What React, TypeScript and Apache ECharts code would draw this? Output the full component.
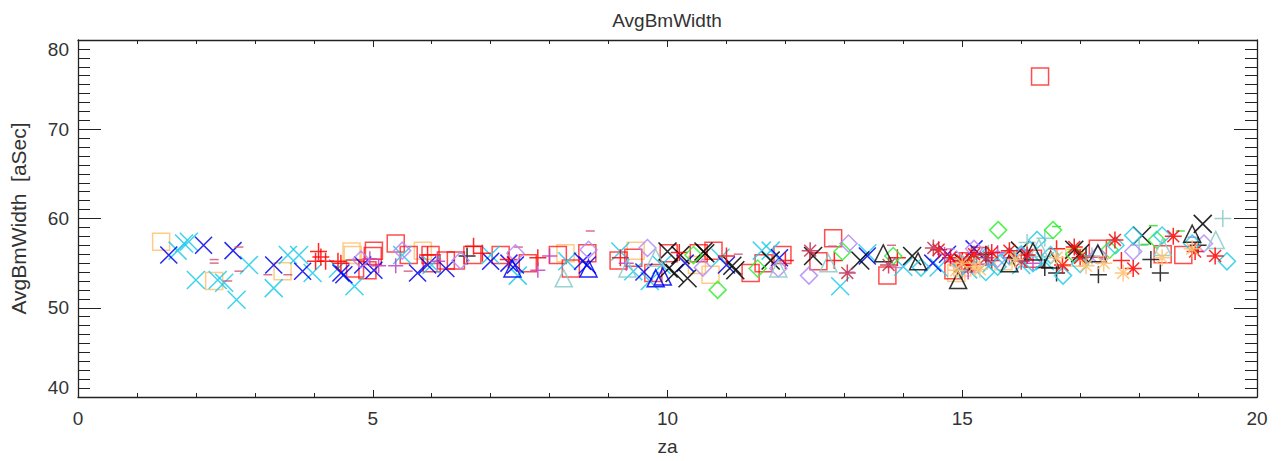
import React, { useEffect, useRef } from "react";
import * as echarts from "echarts";

const xTicks = [0, 5, 10, 15, 20];
const yTicks = [40, 50, 60, 70, 80];

const cyanX = [[1.69,56.4],[1.80,57.2],[1.88,57.4],[2.0,53.1],[2.37,53.1],[2.48,52.8],[2.69,50.9],[2.90,54.8],[3.32,52.2],[3.56,55.9],[3.75,55.9],[3.98,53.9],[4.41,54.4],[4.69,52.4],[5.5,55.9],[6.0,54.8],[7.0,55.9],[7.46,53.6],[8.3,55.2],[9.2,56.3],[9.42,54.1],[9.9,54.8],[10.9,55.6],[11.6,56.4],[12.93,52.4],[13.39,56.1],[11.75,56.4],[14.6,54.5],[15.1,54.3],[15.5,55.0],[16.0,54.8],[16.4,55.2],[9.7,53.0],[14.0,54.6],[15.3,56.0]];
const blueX = [[1.54,55.9],[2.13,57.0],[2.63,56.4],[3.32,54.8],[3.81,54.1],[4.46,53.9],[4.51,53.7],[4.83,54.8],[5.02,54.2],[5.76,53.9],[5.93,54.8],[6.24,54.4],[7.0,55.2],[7.31,55.0],[7.42,54.8],[8.56,55.2],[8.64,54.8],[9.6,54.0],[10.3,55.0],[11.0,54.8],[11.9,55.6],[13.39,55.8],[14.75,56.0],[15.2,56.6],[14.5,55.0]];
const blackX = [[10.0,56.3],[10.02,54.4],[10.12,53.9],[10.22,55.9],[10.34,53.3],[10.61,56.3],[10.64,56.1],[11.1,54.7],[11.15,54.2],[11.75,55.3],[12.47,55.8],[13.27,55.3],[14.15,55.8],[15.02,55.0],[15.98,56.4],[17.0,56.1],[18.05,58.1],[19.08,59.4],[16.9,56.5]];
const redSquares = [[4.91,54.2],[5.02,56.4],[5.0,55.8],[5.39,57.2],[5.61,55.9],[5.98,55.9],[6.24,55.3],[6.41,55.3],[6.69,55.9],[7.17,55.9],[7.63,55.0],[8.14,55.9],[8.36,54.4],[8.64,56.1],[9.17,55.3],[9.42,55.6],[9.76,53.9],[10.02,56.1],[10.53,56.1],[10.78,56.4],[11.41,53.9],[11.63,55.0],[11.95,55.9],[12.81,57.8],[12.56,55.2],[13.73,53.6],[14.85,54.2],[15.1,55.2],[15.3,55.8],[16.2,55.5],[17.3,56.6],[18.75,55.9],[18.4,56.0],[16.32,75.9],[4.7,54.4],[6.0,55.0]];
const orangeSquares = [[1.41,57.4],[2.31,53.0],[3.47,54.1],[4.64,56.3],[4.66,55.9],[5.85,56.4],[8.27,56.1],[9.46,56.4],[10.73,53.7],[10.5,54.8],[15.0,54.5],[14.9,53.9],[15.7,55.2],[16.9,55.6]];
const redPlus = [[4.08,56.3],[4.12,55.7],[4.03,55.2],[4.20,55.2],[4.41,55.2],[4.46,55.0],[5.93,55.9],[6.71,56.9],[6.86,56.1],[7.3,55.4],[7.8,55.6],[9.2,55.6],[10.2,56.2],[11.0,55.8],[12.0,55.3],[12.83,55.3],[13.9,55.6],[15.5,55.3],[16.6,56.6],[17.7,55.3]];
const blackPlus = [[16.4,54.5],[16.6,53.9],[17.31,53.7],[18.36,53.9],[18.2,55.4],[17.1,55.8],[6.6,55.8],[15.4,56.0],[19.0,57.0]];
const tealPlus = [[19.42,60.0],[16.4,57.8],[18.0,57.0],[16.1,57.3],[17.2,55.8]];
const magentaPlus = [[4.95,55.5],[5.39,54.7],[5.1,54.7],[6.1,55.2],[7.8,54.2],[8.0,55.8],[9.3,55.0],[14.7,56.0],[15.6,56.2],[16.2,55.0],[15.1,54.0],[15.8,55.6]];
const pinkDash = [[2.31,55.4],[2.31,55.0],[2.54,53.0],[2.73,56.8],[2.73,54.1],[3.22,53.7],[3.56,53.7],[7.47,56.8],[8.69,58.6],[12.8,56.9],[13.8,57.0],[15.3,55.9],[5.6,54.1],[11.2,56.0]];
const purpleDash = [[13.1,54.0],[14.8,56.6],[16.1,56.1],[17.4,55.5],[18.9,57.9],[13.9,54.5],[15.4,54.9]];
const greenDash = [[18.24,59.2],[18.7,58.6],[16.6,59.1],[15.2,55.7],[18.1,57.1]];
const greenDiamonds = [[10.44,55.9],[10.85,52.0],[11.53,54.4],[12.97,56.3],[13.83,55.8],[15.61,58.7],[16.54,58.7],[17.5,56.5],[18.3,57.6],[16.9,56.0]];
const lavenderDiamonds = [[5.5,56.4],[6.49,55.3],[7.42,56.1],[8.66,56.5],[9.66,56.7],[10.6,54.5],[11.88,54.4],[13.07,57.2],[12.4,53.6],[14.9,55.4],[15.2,56.6],[16.0,55.8],[17.3,55.9],[17.9,56.3],[19.1,57.2],[4.8,55.4],[15.6,55.5]];
const cyanDiamonds = [[14.3,54.5],[15.0,54.9],[15.4,54.0],[15.8,55.8],[16.27,57.6],[16.5,55.9],[16.71,53.6],[17.0,54.9],[17.6,57.0],[18.39,58.1],[18.9,57.2],[19.49,55.2],[16.0,56.0],[15.6,54.6],[17.9,58.1],[16.2,55.0]];
const tealTriangles = [[8.24,53.3],[9.32,54.4],[9.8,55.6],[11.88,54.4],[12.73,55.0],[16.3,56.7],[18.4,56.8],[19.3,57.6]];
const blueTriangles = [[7.37,54.4],[8.66,54.4],[9.8,53.3],[9.92,53.5]];
const blackTriangles = [[13.66,56.1],[14.25,55.2],[14.93,53.1],[15.8,55.0],[16.5,55.4],[17.3,56.1],[18.9,58.3],[16.2,56.3]];
const redAsterisks = [[14.6,56.5],[14.8,55.6],[15.0,55.3],[15.2,56.0],[15.1,54.8],[15.5,56.2],[16.1,55.9],[16.7,54.8],[17.0,55.6],[17.59,57.6],[17.9,54.4],[18.58,58.0],[18.95,56.3],[19.29,55.8],[15.8,56.4],[16.9,56.8]];
const crimsonAsterisks = [[12.42,56.4],[13.05,53.9],[13.75,54.8],[14.51,56.7],[15.4,55.6],[16.0,55.2]];
const orangeAsterisks = [[14.9,54.2],[15.0,55.0],[15.2,54.6],[15.9,55.4],[17.1,54.7],[17.73,53.9],[18.39,55.6],[17.4,55.0],[16.6,55.6],[18.9,56.6],[15.3,54.3]];

const X_PATH = "path://M0,0L10,10M10,0L0,10";
const PLUS_PATH = "path://M5,0L5,10M0,5L10,5";
const AST_PATH = "path://M5,0L5,10M0,5L10,5M1.5,1.5L8.5,8.5M8.5,1.5L1.5,8.5";

function outline(data: number[][], symbol: string, color: string, size: number | number[], width = 1.5, opacity = 0.85) {
  return {
    type: "scatter",
    data,
    symbol,
    symbolSize: size,
    silent: true,
    itemStyle: { color: "none", borderColor: color, borderWidth: width, opacity },
    emphasis: { disabled: true },
  };
}
function dash(data: number[][], color: string) {
  return {
    type: "scatter",
    data,
    symbol: "rect",
    symbolSize: [9, 1.5],
    silent: true,
    itemStyle: { color, opacity: 0.85 },
    emphasis: { disabled: true },
  };
}

export default function App() {
  const ref = useRef<HTMLDivElement>(null);
  useEffect(() => {
    const chart = echarts.init(ref.current!, null, { renderer: "svg" });
    const font = "Liberation Sans";
    const axisLine = { show: true, onZero: false, lineStyle: { color: "#222", width: 1.3 } };
    const xCommon = {
      type: "value",
      min: 0,
      max: 20,
      interval: 5,
      splitLine: { show: false },
      axisLine,
      axisTick: { show: true, inside: true, length: 7, lineStyle: { color: "#222" } },
      minorTick: { show: true, splitNumber: 5, length: 4, lineStyle: { color: "#222" } },
    };
    const yCommon = {
      type: "value",
      min: 40,
      max: 80,
      interval: 10,
      splitLine: { show: false },
      axisLine,
      axisTick: { show: true, inside: true, length: 23, lineStyle: { color: "#222" } },
      minorTick: { show: true, splitNumber: 10, length: 12, lineStyle: { color: "#222" } },
    };
    chart.setOption({
      animation: false,
      grid: { left: 77, right: 26, top: 40, bottom: 61, containLabel: false },
      xAxis: [
        {
          ...xCommon,
          position: "bottom",
          name: "za",
          nameLocation: "middle",
          nameGap: 40,
          nameTextStyle: { fontFamily: font, fontSize: 19, color: "#333" },
          axisLabel: {
            margin: 12,
            fontFamily: font,
            fontSize: 19,
            color: "#333",
            formatter: (v: number) => (xTicks.includes(v) ? String(v) : ""),
          },
        },
        { ...xCommon, position: "top", axisLabel: { show: false } },
      ],
      yAxis: [
        {
          ...yCommon,
          position: "left",
          name: "AvgBmWidth  [aSec]",
          nameLocation: "middle",
          nameGap: 49,
          nameTextStyle: { fontFamily: font, fontSize: 21, color: "#333" },
          axisLabel: {
            margin: 9,
            fontFamily: font,
            fontSize: 19,
            color: "#333",
            verticalAlignMinLabel: "bottom",
            verticalAlignMaxLabel: "top",
            formatter: (v: number) => (yTicks.includes(v) ? String(v) : ""),
          },
        },
        { ...yCommon, position: "right", axisLabel: { show: false } },
      ],
      graphic: [
        {
          type: "text",
          x: 667,
          y: 20,
          style: {
            text: "AvgBmWidth",
            fontFamily: font,
            fontSize: 19,
            fill: "#333",
            textAlign: "center",
            textVerticalAlign: "middle",
          },
        },
      ],
      series: [
        outline(orangeSquares, "rect", "#ffbf6a", 17, 1.5, 0.8),
        outline(redSquares, "rect", "#ff0000", 17, 1.5, 0.7),
        outline(cyanX, X_PATH, "#1ccbeb", 18),
        outline(blueX, X_PATH, "#0000ee", 17),
        outline(blackX, X_PATH, "#000000", 18, 1.6),
        outline(redPlus, PLUS_PATH, "#ff0000", 17),
        outline(blackPlus, PLUS_PATH, "#111111", 17),
        outline(tealPlus, PLUS_PATH, "#88caca", 17),
        outline(magentaPlus, PLUS_PATH, "#c040c0", 15),
        dash(pinkDash, "#d05878"),
        dash(purpleDash, "#b07ce8"),
        dash(greenDash, "#33dd33"),
        outline(greenDiamonds, "diamond", "#33ee33", 17),
        outline(lavenderDiamonds, "diamond", "#b488f8", 17),
        outline(cyanDiamonds, "diamond", "#22cce8", 17),
        outline(tealTriangles, "triangle", "#88caca", 17),
        outline(blueTriangles, "triangle", "#0000ee", 17),
        outline(blackTriangles, "triangle", "#111111", 17),
        outline(redAsterisks, AST_PATH, "#ff0000", 17),
        outline(crimsonAsterisks, AST_PATH, "#c03050", 17),
        outline(orangeAsterisks, AST_PATH, "#ffbf70", 17),
      ].map((s: any) => ({ ...s, xAxisIndex: 0, yAxisIndex: 0 })),
    });
    return () => chart.dispose();
  }, []);
  return (
    <div
      ref={ref}
      style={{ position: "absolute", left: 0, top: 0, width: 1283, height: 461, background: "#fff" }}
    />
  );
}
